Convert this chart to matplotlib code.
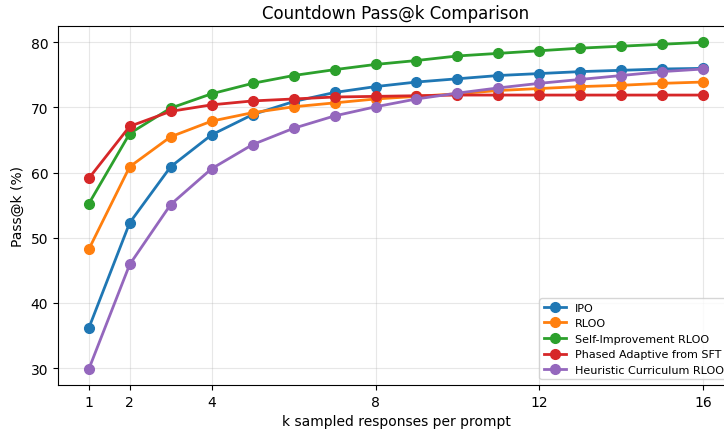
import matplotlib
matplotlib.use("Agg")
import matplotlib.pyplot as plt

k = list(range(1, 17))
ipo = [36.1, 52.3, 60.9, 65.8, 68.9, 70.9, 72.3, 73.2, 73.9, 74.4, 74.9, 75.2, 75.5, 75.7, 75.9, 76.0]
rloo = [48.2, 60.9, 65.5, 67.9, 69.2, 70.1, 70.7, 71.3, 71.7, 72.1, 72.6, 72.9, 73.2, 73.4, 73.7, 73.9]
self_imp = [55.2, 66.0, 69.9, 72.1, 73.7, 74.9, 75.8, 76.6, 77.2, 77.9, 78.3, 78.7, 79.1, 79.4, 79.7, 80.0]
phased = [59.1, 67.1, 69.4, 70.4, 71.0, 71.3, 71.6, 71.7, 71.8, 71.9, 71.9, 71.9, 71.9, 71.9, 71.9, 71.9]
heuristic = [29.8, 45.9, 55.1, 60.6, 64.3, 66.8, 68.7, 70.1, 71.3, 72.2, 73.0, 73.7, 74.3, 74.9, 75.5, 75.9]
series = [
    ("IPO", ipo, "#1f77b4"),
    ("RLOO", rloo, "#ff7f0e"),
    ("Self-Improvement RLOO", self_imp, "#2ca02c"),
    ("Phased Adaptive from SFT", phased, "#d62728"),
    ("Heuristic Curriculum RLOO", heuristic, "#9467bd"),
]
xticks = [1, 2, 4, 8, 12, 16]

fig = plt.figure(figsize=(7.24, 4.31), dpi=100)
ax = fig.add_axes([58/724, 1-386/431, (734-58)/724, (386-27)/431])
for name, vals, c in series:
    ax.plot(k, vals, marker="o", color=c, linewidth=2, markersize=7, label=name)
ax.set_xticks(xticks)
ax.set_xlim(0.25, 16.75)
ax.set_ylim(27.4, 82.5)
ax.grid(True, alpha=0.3)
ax.set_title("Countdown Pass@k Comparison", fontsize=12)
ax.set_xlabel("k sampled responses per prompt", fontsize=10)
ax.set_ylabel("Pass@k (%)", fontsize=10)
ax.tick_params(labelsize=10)
leg = ax.legend(loc="lower right", fontsize=8)
fig.savefig("out.png", dpi=100)
